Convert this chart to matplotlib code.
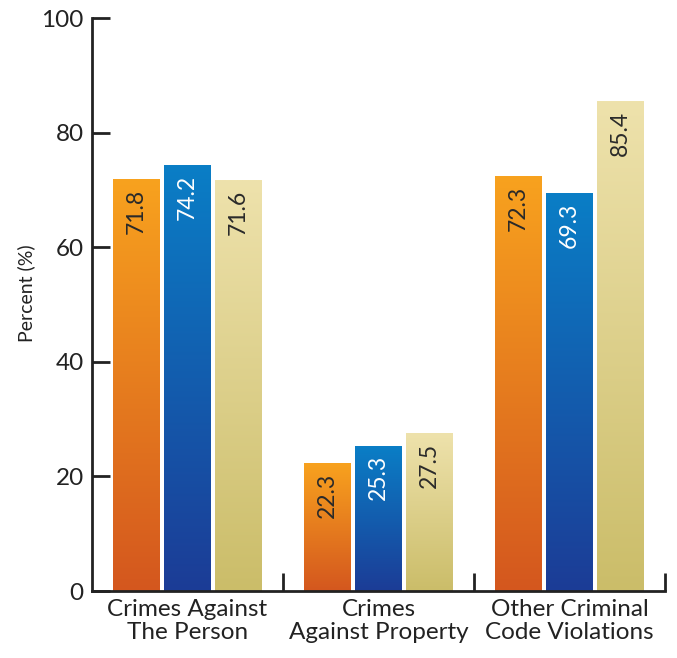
import numpy as np
import matplotlib
matplotlib.use("Agg")
import matplotlib.pyplot as plt
from matplotlib.colors import LinearSegmentedColormap

categories = ["Crimes Against\nThe Person", "Crimes\nAgainst Property", "Other Criminal\nCode Violations"]
series_a = [71.8, 22.3, 72.3]
series_b = [74.2, 25.3, 69.3]
series_c = [71.6, 27.5, 85.4]
yticks = [0, 20, 40, 60, 80, 100]

# (bottom colour, top colour, label colour) for each series
styles = [
    ("#d4571f", "#f8a21e", "#2a2a2a"),
    ("#1c3c96", "#0a7ec6", "#ffffff"),
    ("#cbbd69", "#eee2ac", "#2a2a2a"),
]

plt.rcParams["font.family"] = ["Lato", "DejaVu Sans"]

fig = plt.figure(figsize=(6.77, 6.58), dpi=100)
ax = fig.add_axes([0.1359, 0.1018, 0.8464, 0.8708])

bar_w = 0.246
step = 0.267
x = np.arange(len(categories)) + 0.5
grad = np.linspace(0, 1, 256).reshape(-1, 1)

for i, vals in enumerate([series_a, series_b, series_c]):
    lo, hi, tcol = styles[i]
    cmap = LinearSegmentedColormap.from_list(f"s{i}", [lo, hi])
    for xc, v in zip(x + (i - 1) * step, vals):
        ax.imshow(grad, cmap=cmap, origin="lower", aspect="auto",
                  extent=[xc - bar_w / 2, xc + bar_w / 2, 0, v], zorder=2)
        ax.text(xc, v - 1.6, f"{v:.1f}", rotation=90, ha="center", va="top",
                color=tcol, fontsize=16.5, zorder=3)

ax.set_xlim(0, 3)
ax.set_ylim(0, 100)
ax.set_yticks(yticks)
ax.set_yticklabels([str(t) for t in yticks], fontsize=17.5, color="#222222")
ax.set_xticks([1, 2, 3])
ax.set_xticklabels([])
ax.set_xticks(x, minor=True)
ax.set_xticklabels(categories, minor=True, fontsize=17.5, color="#222222",
                   linespacing=1.1)
ax.tick_params(axis="x", which="minor", length=0, pad=6)
ax.tick_params(axis="x", which="major", direction="in", length=13, width=2,
               color="#222222")
ax.tick_params(axis="y", direction="in", length=13, width=2, color="#222222",
               pad=6)
ax.set_ylabel("Percent (%)", fontsize=14, color="#222222")
ax.yaxis.set_label_coords(-0.1, 0.52)

for s in ["top", "right"]:
    ax.spines[s].set_visible(False)
for s in ["left", "bottom"]:
    ax.spines[s].set_linewidth(2)
    ax.spines[s].set_color("#222222")

fig.savefig("out.png", dpi=100)
